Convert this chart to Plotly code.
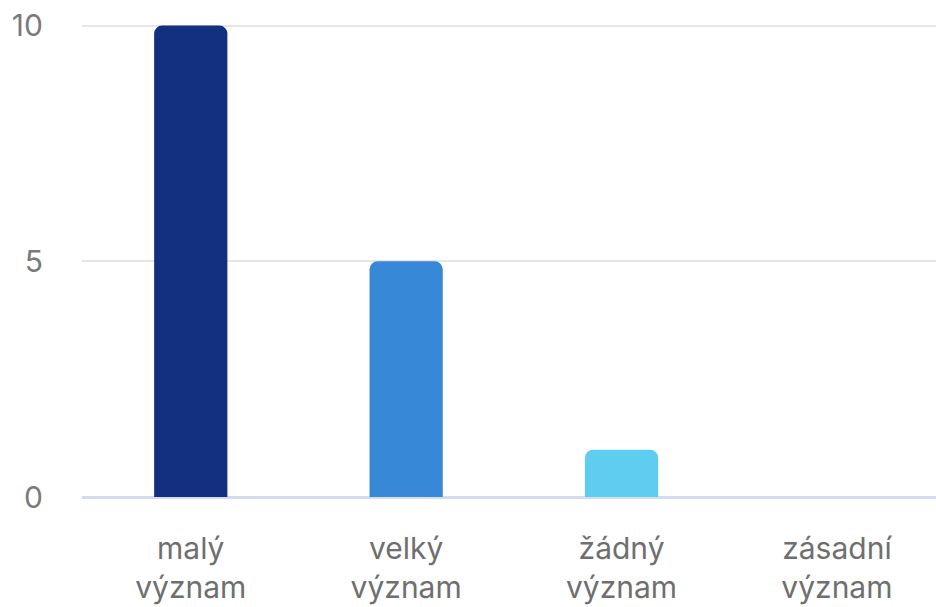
import plotly.graph_objects as go

categories = ["malý<br>význam", "velký<br>význam", "žádný<br>význam", "zásadní<br>význam"]
values = [10, 5, 1, 0]
colors = ["#12307f", "#3789d8", "#5ecdef", "#9ee3f5"]
y_ticks = [0, 5, 10]

fig = go.Figure(go.Bar(
    x=categories, y=values, marker_color=colors, width=0.34,
    marker_line_width=0,
))
fig.update_layout(
    width=936, height=607,
    margin=dict(l=82, r=0, t=2, b=110),
    paper_bgcolor="white", plot_bgcolor="white",
    barcornerradius=8,
    font=dict(family="Inter", size=30, color="#6f6f6f"),
    showlegend=False,
)
fig.update_xaxes(range=[-0.505, 3.46], showgrid=False, showline=False, ticks="",
                 ticklabelstandoff=31,
                 tickfont=dict(size=30, color="#6f6f6f"))
fig.update_yaxes(range=[0, 10.5], tickvals=y_ticks, showgrid=True, gridcolor="#e6e6e6",
                 gridwidth=2, zeroline=True, zerolinecolor="#d5dbef", zerolinewidth=3,
                 showline=False, ticks="", ticklabelstandoff=38,
                 tickfont=dict(size=30, color="#7a7a7a"))
fig.write_html("out.html")
